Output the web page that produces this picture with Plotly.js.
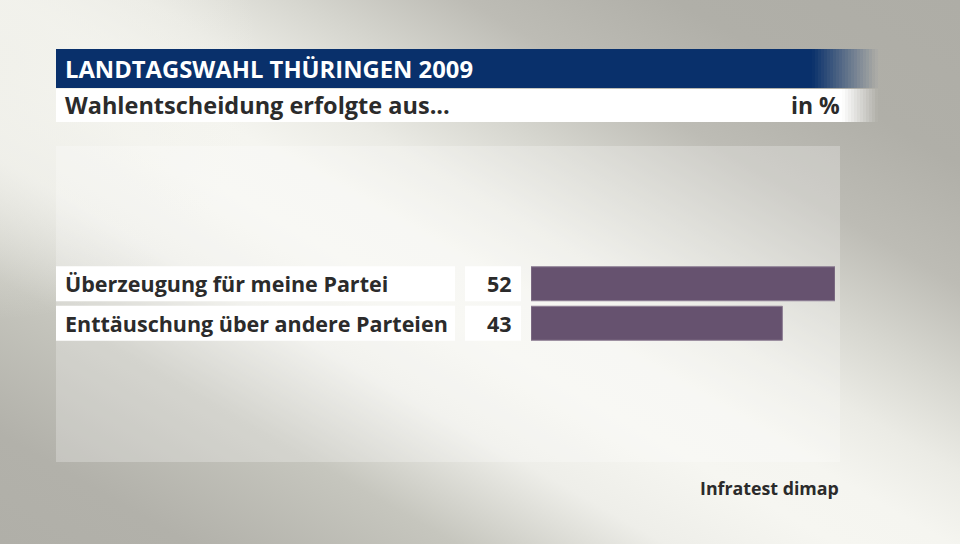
<!DOCTYPE html>
<html>
<head>
<meta charset="utf-8">
<script src="https://cdn.plot.ly/plotly-3.0.1.min.js"></script>
<style>
  html, body { margin: 0; padding: 0; }
  #chart {
    width: 960px; height: 544px;
    background:
      radial-gradient(ellipse 260px 260px at 0px 60px, rgba(240,240,234,0.9) 0%, rgba(240,240,234,0) 100%),
      linear-gradient(30deg, #b0afa8 0%, #b2b1aa 10%, #c6c6be 24%, #eeeee9 35%, #f6f6f1 44%, #f5f5f0 50%, #ebebe5 57%, #d6d6cf 65%, #bdbcb5 74%, #b0afa8 85%, #aeada6 100%);
  }
</style>
</head>
<body>
<div id="chart"></div>
<script>
const categories = ["Überzeugung für meine Partei", "Enttäuschung über andere Parteien"];
const values = [52, 43];
const titleText = "LANDTAGSWAHL THÜRINGEN 2009";
const subtitleText = "Wahlentscheidung erfolgte aus...";
const unitText = "in %";
const sourceText = "Infratest dimap";

const W = 960, H = 544;
const M = {l: 531, r: 125, t: 264, b: 201};
const plotW = W - M.l - M.r, plotH = H - M.t - M.b;
const px = p => (p - M.l) / plotW;          // pixel x -> paper x
const py = p => (H - M.b - p) / plotH;      // pixel y -> paper y

const FONT = "Open Sans, DejaVu Sans, sans-serif";
const TXT = "#2b2b2b";
const shapes = [];
const annotations = [];

// chart panel
shapes.push({type:'rect', xref:'paper', yref:'paper', x0:px(56), x1:px(840), y0:py(146), y1:py(462),
  fillcolor:'rgba(255,255,255,0.25)', line:{width:0}, layer:'below'});

// title bar (solid + fade)
shapes.push({type:'rect', xref:'paper', yref:'paper', x0:px(56), x1:px(812), y0:py(49), y1:py(88),
  fillcolor:'#09306b', line:{width:0}, layer:'below'});
const nF = 22;
for (let i = 0; i < nF; i++) {
  const a = 1 - (i + 0.5) / nF;
  shapes.push({type:'rect', xref:'paper', yref:'paper', x0:px(812 + i*3), x1:px(812 + (i+1)*3), y0:py(49), y1:py(88),
    fillcolor:`rgba(9,48,107,${a.toFixed(3)})`, line:{width:0}, layer:'below'});
}
// subtitle box (solid + fade)
shapes.push({type:'rect', xref:'paper', yref:'paper', x0:px(56), x1:px(842), y0:py(89), y1:py(122),
  fillcolor:'#ffffff', line:{width:0}, layer:'below'});
for (let i = 0; i < 12; i++) {
  const a = 1 - (i + 0.5) / 12;
  shapes.push({type:'rect', xref:'paper', yref:'paper', x0:px(842 + i*3), x1:px(842 + (i+1)*3), y0:py(89), y1:py(122),
    fillcolor:`rgba(255,255,255,${a.toFixed(3)})`, line:{width:0}, layer:'below'});
}

annotations.push({xref:'paper', yref:'paper', x:px(63), y:py(69), xanchor:'left', yanchor:'middle',
  text:'<b>' + titleText + '</b>', showarrow:false, font:{family:FONT, size:23.8, color:'#ffffff'}});
annotations.push({xref:'paper', yref:'paper', x:px(63), y:py(105), xanchor:'left', yanchor:'middle',
  text:'<b>' + subtitleText + '</b>', showarrow:false, font:{family:FONT, size:23.5, color:TXT}});
annotations.push({xref:'paper', yref:'paper', x:px(842), y:py(105), xanchor:'right', yanchor:'middle',
  text:'<b>' + unitText + '</b>', showarrow:false, font:{family:FONT, size:23, color:TXT}});
annotations.push({xref:'paper', yref:'paper', x:px(841), y:py(488), xanchor:'right', yanchor:'middle',
  text:'<b>' + sourceText + '</b>', showarrow:false, font:{family:FONT, size:17.8, color:TXT}});

// row boxes and labels
const half = 17.5 / 39.5;
categories.forEach((c, i) => {
  shapes.push({type:'rect', xref:'paper', yref:'y', x0:px(56), x1:px(455), y0:i - half, y1:i + half,
    fillcolor:'#ffffff', line:{width:0}, layer:'below'});
  shapes.push({type:'rect', xref:'paper', yref:'y', x0:px(465), x1:px(521), y0:i - half, y1:i + half,
    fillcolor:'#ffffff', line:{width:0}, layer:'below'});
  annotations.push({xref:'paper', yref:'y', x:px(63), y:i, xanchor:'left', yanchor:'middle',
    text:'<b>' + c + '</b>', showarrow:false, font:{family:FONT, size:21.5, color:TXT}});
  annotations.push({xref:'paper', yref:'y', x:px(514), y:i, xanchor:'right', yanchor:'middle',
    text:'<b>' + values[i] + '</b>', showarrow:false, font:{family:FONT, size:21.5, color:TXT}});
});

const trace = {
  type:'bar', orientation:'h', x: values, y: categories, width: 34/39.5,
  marker:{color:'#66526f', line:{color:'#8d7e93', width:1}},
  hoverinfo:'none'
};

const layout = {
  width: W, height: H, margin: M,
  paper_bgcolor:'rgba(0,0,0,0)', plot_bgcolor:'rgba(0,0,0,0)',
  showlegend:false,
  xaxis:{range:[0, 52], visible:false, fixedrange:true},
  yaxis:{type:'category', range:[1.5, -0.5], visible:false, fixedrange:true},
  shapes, annotations
};

Plotly.newPlot('chart', [trace], layout, {displayModeBar:false, staticPlot:true});
</script>
</body>
</html>
